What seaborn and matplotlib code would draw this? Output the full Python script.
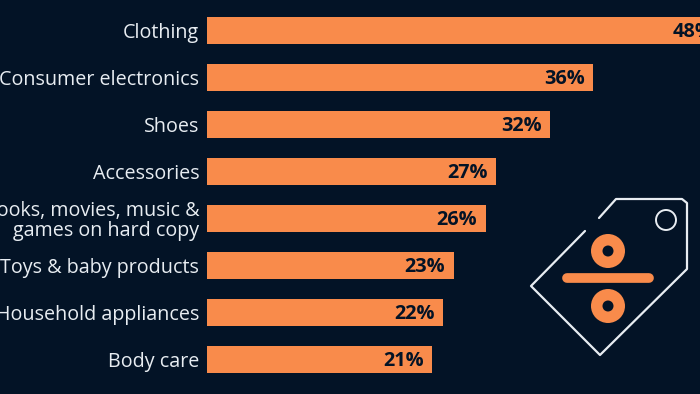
import pandas as pd
import matplotlib
matplotlib.use("Agg")
import matplotlib.pyplot as plt
from matplotlib.patches import Circle
import seaborn as sns

# Data
categories = ["Clothing", "Consumer electronics", "Shoes", "Accessories",
              "Books, movies, music &\ngames on hard copy", "Toys & baby products",
              "Household appliances", "Body care"]
shares = [48, 36, 32, 27, 26, 23, 22, 21]

BG = "#031326"
ORANGE = "#F98B4B"
LIGHT = "#E8EDF2"

sns.set_theme(style="white")
plt.rcParams["font.family"] = ["Open Sans", "DejaVu Sans"]

df = pd.DataFrame({"category": categories, "share": shares})

fig = plt.figure(figsize=(7, 3.94), dpi=100, facecolor=BG)
ax = fig.add_axes([207 / 700, 0, 493 / 700, 1], facecolor=BG)
sns.barplot(data=df, x="share", y="category", color=ORANGE, saturation=1, width=0.574,
            linewidth=0, edgecolor="none", ax=ax)
ax.set_xlim(0, 493 / 10.72)
ax.set_ylim((394 - 30.5) / 47, -30.5 / 47)
ax.set_xlabel("")
ax.set_ylabel("")
ax.set_xticks([])
ax.tick_params(axis="y", length=0, pad=5.5, labelsize=14.2, labelcolor=LIGHT)
for lab in ax.get_yticklabels():
    lab.set_linespacing(1.0)
sns.despine(ax=ax, left=True, bottom=True)

# Value labels inside the bar ends
for i, v in enumerate(shares):
    ax.annotate(f"{v}%", (v, i), xytext=(-6, -1.2), textcoords="offset points", ha="right", va="center",
                fontsize=14.3, fontweight="bold", color=BG, annotation_clip=False)

# Price tag icon, on an overlay in pixel coordinates
icon = fig.add_axes([0, 0, 1, 1], facecolor="none")
icon.set_xlim(0, 700)
icon.set_ylim(394, 0)
icon.axis("off")
tag_x = [599, 616, 682, 687, 687, 600, 531, 585]
tag_y = [218, 199, 199, 203, 269, 355, 286, 231]
icon.plot(tag_x, tag_y, color=LIGHT, lw=1.6, solid_capstyle="round", solid_joinstyle="round")
icon.add_patch(Circle((666, 220), 10, fill=False, ec=LIGHT, lw=1.4))
icon.plot([567, 649], [278, 278], color=ORANGE, lw=7, solid_capstyle="round")
for cy in [251, 306]:
    icon.add_patch(Circle((608, cy), 17, fc=ORANGE, ec="none"))
    icon.add_patch(Circle((608, cy), 5.5, fc=BG, ec="none"))

fig.savefig("out.png", dpi=100, facecolor=BG)
